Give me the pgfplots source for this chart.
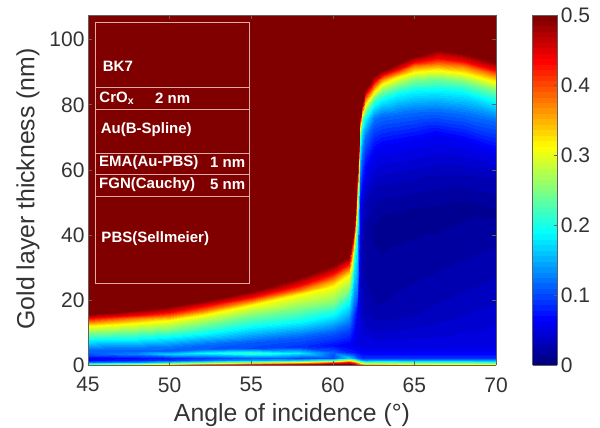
\documentclass[border=0pt]{standalone}
\usepackage{fontspec}
\setmainfont{Liberation Sans}
\usepackage{pgfplots}
\pgfplotsset{compat=1.18}
\pgfplotsset{colormap={mjetbase}{rgb255(0)=(0,0,128) rgb255(1)=(0,0,255) rgb255(3)=(0,255,255) rgb255(5)=(255,255,0) rgb255(7)=(255,0,0) rgb255(8)=(128,0,0)}}
\pgfplotsset{colormap={mjet}{samples of colormap=(64 of mjetbase)}}
\definecolor{axc}{gray}{0.38}
\definecolor{txc}{gray}{0.2}
\definecolor{boxc}{RGB}{222,170,170}
\newcommand{\bigf}{\fontsize{21}{25}\selectfont}
\newcommand{\labf}{\fontsize{24.8}{29}\selectfont}
\newcommand{\lab}[3]{\node[anchor=west,inner sep=0pt,text=white,font=\fontsize{15}{17}\selectfont\bfseries] at (#1pt-88pt,365pt-#2pt) {#3};}
\begin{document}
\begin{tikzpicture}
\useasboundingbox (-88pt,-63pt) rectangle (512pt,365pt);
\begin{axis}[
  at={(0pt,0pt)},anchor=south west,
  scale only axis,width=408pt,height=350pt,
  xmin=45,xmax=70,ymin=0,ymax=107.6,
  view={0}{90},
  xtick={45,50,...,70},ytick={0,20,...,100},
  tick align=inside,major tick length=4pt,
  tick style={color=axc,line width=0.6pt},
  axis line style={color=axc,line width=0.9pt},
  /pgf/number format/assume math mode=true,
  tick label style={font=\bigf,text=txc},
  xticklabel style={yshift=-9pt},
  xlabel={Angle of incidence (°)},
  ylabel={Gold layer thickness (nm)},
  label style={font=\labf,text=txc},
  xlabel style={at={(axis description cs:0.5,-0.162)},anchor=base},
  ylabel style={at={(axis description cs:-0.1316,0.503)},anchor=base},
  point meta min=0,point meta max=0.5,
  colormap name=mjet,
  colormap access=piecewise constant,
  colorbar,
  colorbar style={
    at={(1.09,1)},anchor=north west,
    width=24.6pt,
    ytick={0,0.1,0.2,0.3,0.4,0.5},
    yticklabels={0,0.1,0.2,0.3,0.4,0.5},
    ytick pos=right,
    yticklabel pos=right,
    tick align=inside,major tick length=3pt,
    tick style={color=axc,line width=0.6pt},
    axis line style={color=axc,line width=0.9pt},
    tick label style={font=\bigf,text=txc},
    /pgf/number format/assume math mode=true,
  },
]
\addplot3[surf,shader=interp,mesh/cols=21,mesh/rows=21] table[row sep=\\] {
x y z\\
45 0 .3\\ 45 .45 .22\\ 45 .9 .12\\ 45 1.5 .065\\ 45 2.2 .06\\ 45 3.2 .1\\ 45 4 .11\\ 45 4.1 .11\\ 45 4.2 .11\\ 45 4.3 .11\\ 45 4.4 .112\\ 45 4.5 .114\\ 45 4.6 .116\\ 45 4.8 .12\\ 45 7.7 .1875\\ 45 9.8 .25\\ 45 12 .3125\\ 45 13.2 .375\\ 45 14.3 .4375\\ 45 15.8 .5\\ 45 107.6 .5\\
48 0 .42\\ 48 .45 .27\\ 48 .9 .13\\ 48 1.5 .08\\ 48 2.2 .07\\ 48 3.4 .13\\ 48 4.3 .115\\ 48 4.4 .115\\ 48 4.5 .115\\ 48 4.6 .115\\ 48 4.7 .116\\ 48 4.8 .117\\ 48 4.9 .118\\ 48 5.1 .12\\ 48 8.1 .1875\\ 48 10.5 .25\\ 48 13 .3125\\ 48 14.3 .375\\ 48 15.4 .4375\\ 48 16.9 .5\\ 48 107.6 .5\\
50 0 .47\\ 50 .45 .32\\ 50 .9 .17\\ 50 1.5 .09\\ 50 2.2 .08\\ 50 3.5 .17\\ 50 4.4 .115\\ 50 4.6 .115\\ 50 4.7 .115\\ 50 4.8 .115\\ 50 4.9 .116\\ 50 5 .117\\ 50 5.2 .118\\ 50 5.4 .12\\ 50 8.5 .1875\\ 50 11.2 .25\\ 50 13.8 .3125\\ 50 15.1 .375\\ 50 16.3 .4375\\ 50 18 .5\\ 50 107.6 .5\\
52 0 .5\\ 52 .45 .38\\ 52 .9 .2\\ 52 1.5 .11\\ 52 2.2 .09\\ 52 3.6 .19\\ 52 4.8 .11\\ 52 5 .11\\ 52 5.2 .111\\ 52 5.5 .112\\ 52 5.8 .113\\ 52 6.1 .115\\ 52 6.3 .118\\ 52 6.5 .12\\ 52 9.6 .1875\\ 52 12.6 .25\\ 52 15.3 .3125\\ 52 16.7 .375\\ 52 18 .4375\\ 52 19.6 .5\\ 52 107.6 .5\\
55 0 .5\\ 55 .45 .42\\ 55 .9 .25\\ 55 1.5 .14\\ 55 2.2 .11\\ 55 3.7 .22\\ 55 5.2 .1\\ 55 5.6 .102\\ 55 6 .104\\ 55 6.4 .106\\ 55 6.8 .108\\ 55 7.2 .11\\ 55 7.5 .115\\ 55 7.8 .12\\ 55 11.7 .1875\\ 55 15.4 .25\\ 55 18.3 .3125\\ 55 19.7 .375\\ 55 21 .4375\\ 55 22.8 .5\\ 55 107.6 .5\\
58 0 .5\\ 58 .45 .46\\ 58 .9 .3\\ 58 1.5 .16\\ 58 2.2 .1\\ 58 3.8 .18\\ 58 5.5 .09\\ 58 6 .092\\ 58 6.5 .095\\ 58 7 .098\\ 58 7.5 .102\\ 58 8 .106\\ 58 8.6 .112\\ 58 9.2 .12\\ 58 13.2 .1875\\ 58 17.5 .25\\ 58 21.7 .3125\\ 58 23.1 .375\\ 58 24.5 .4375\\ 58 27 .5\\ 58 107.6 .5\\
60 0 .5\\ 60 .45 .5\\ 60 .9 .38\\ 60 1.5 .2\\ 60 2.2 .1\\ 60 4 .11\\ 60 6 .07\\ 60 6.7 .077\\ 60 7.4 .084\\ 60 8.1 .091\\ 60 8.8 .098\\ 60 9.5 .105\\ 60 10.2 .112\\ 60 10.8 .12\\ 60 15.4 .1875\\ 60 19 .25\\ 60 24.3 .3125\\ 60 26.3 .375\\ 60 28.3 .4375\\ 60 30.8 .5\\ 60 107.6 .5\\
61 0 .5\\ 61 .45 .5\\ 61 .9 .43\\ 61 1.5 .3\\ 61 2.2 .17\\ 61 4 .08\\ 61 6 .06\\ 61 7 .068\\ 61 8 .077\\ 61 9 .085\\ 61 10 .094\\ 61 11 .103\\ 61 12 .112\\ 61 13 .12\\ 61 19 .1875\\ 61 23 .25\\ 61 27.7 .3125\\ 61 29.5 .375\\ 61 31.3 .4375\\ 61 33.5 .5\\ 61 107.6 .5\\
61.15 0 .5\\ 61.15 .45 .48\\ 61.15 .9 .4\\ 61.15 1.5 .27\\ 61.15 2.2 .15\\ 61.15 4 .078\\ 61.15 6 .058\\ 61.15 7.5 .062\\ 61.15 9 .07\\ 61.15 10.5 .08\\ 61.15 12 .09\\ 61.15 13.5 .1\\ 61.15 15 .11\\ 61.15 16.3 .12\\ 61.15 24 .1875\\ 61.15 28 .25\\ 61.15 32 .3125\\ 61.15 34.5 .375\\ 61.15 36.5 .4375\\ 61.15 38.5 .5\\ 61.15 107.6 .5\\
61.3 0 .5\\ 61.3 .45 .47\\ 61.3 .9 .38\\ 61.3 1.5 .25\\ 61.3 2.2 .14\\ 61.3 4 .075\\ 61.3 6 .055\\ 61.3 8 .06\\ 61.3 10 .066\\ 61.3 12 .075\\ 61.3 14 .085\\ 61.3 16 .095\\ 61.3 17.5 .11\\ 61.3 19 .12\\ 61.3 30 .1875\\ 61.3 34 .25\\ 61.3 37 .3125\\ 61.3 39 .375\\ 61.3 40.5 .4375\\ 61.3 42 .5\\ 61.3 107.6 .5\\
61.5 0 .5\\ 61.5 .45 .42\\ 61.5 .9 .33\\ 61.5 1.5 .2\\ 61.5 2.2 .11\\ 61.5 4 .07\\ 61.5 6 .05\\ 61.5 9 .05\\ 61.5 13 .055\\ 61.5 16 .065\\ 61.5 18 .08\\ 61.5 20 .095\\ 61.5 21 .11\\ 61.5 22 .12\\ 61.5 38 .1875\\ 61.5 44 .25\\ 61.5 50 .3125\\ 61.5 53 .375\\ 61.5 56 .4375\\ 61.5 59 .5\\ 61.5 107.6 .5\\
61.65 0 .48\\ 61.65 .45 .38\\ 61.65 .9 .27\\ 61.65 1.5 .16\\ 61.65 2.2 .1\\ 61.65 4 .065\\ 61.65 6 .055\\ 61.65 11 .05\\ 61.65 18 .045\\ 61.65 26 .042\\ 61.65 36 .05\\ 61.65 44 .058\\ 61.65 50 .07\\ 61.65 58 .12\\ 61.65 66 .1875\\ 61.65 71 .25\\ 61.65 73 .3125\\ 61.65 74.2 .375\\ 61.65 75.2 .4375\\ 61.65 76.3 .5\\ 61.65 107.6 .5\\
61.8 0 .47\\ 61.8 .45 .36\\ 61.8 .9 .25\\ 61.8 1.5 .14\\ 61.8 2.2 .09\\ 61.8 3.6 .065\\ 61.8 5.3 .055\\ 61.8 11.7 .042\\ 61.8 18 .035\\ 61.8 26 .03\\ 61.8 36 .028\\ 61.8 45 .04\\ 61.8 54 .0625\\ 61.8 65 .12\\ 61.8 72.5 .1875\\ 61.8 75.5 .25\\ 61.8 77 .3125\\ 61.8 78 .375\\ 61.8 79 .4375\\ 61.8 80.3 .5\\ 61.8 107.6 .5\\
62 0 .45\\ 62 .45 .33\\ 62 .9 .22\\ 62 1.5 .13\\ 62 2.2 .09\\ 62 3.6 .065\\ 62 5.3 .055\\ 62 11.7 .04\\ 62 17 .03\\ 62 27 .023\\ 62 40 .02\\ 62 50 .032\\ 62 60 .0625\\ 62 70 .12\\ 62 75.5 .1875\\ 62 78 .25\\ 62 80 .3125\\ 62 81.5 .375\\ 62 83 .4375\\ 62 84.5 .5\\ 62 107.6 .5\\
62.5 0 .45\\ 62.5 .45 .33\\ 62.5 .9 .22\\ 62.5 1.5 .14\\ 62.5 2.2 .09\\ 62.5 3.6 .065\\ 62.5 5.3 .055\\ 62.5 9.5 .04\\ 62.5 14 .03\\ 62.5 20 .02\\ 62.5 42 .014\\ 62.5 54 .03\\ 62.5 66 .0625\\ 62.5 75.5 .12\\ 62.5 80 .1875\\ 62.5 82.5 .25\\ 62.5 84 .3125\\ 62.5 85.5 .375\\ 62.5 87 .4375\\ 62.5 88.7 .5\\ 62.5 107.6 .5\\
63 0 .45\\ 63 .45 .33\\ 63 .9 .22\\ 63 1.5 .14\\ 63 2.2 .09\\ 63 3.6 .065\\ 63 5.3 .055\\ 63 9.5 .04\\ 63 14.3 .03\\ 63 22 .02\\ 63 44 .012\\ 63 55 .03\\ 63 67.5 .0625\\ 63 76.8 .12\\ 63 81.5 .1875\\ 63 84.3 .25\\ 63 86.4 .3125\\ 63 87.8 .375\\ 63 89 .4375\\ 63 90.3 .5\\ 63 107.6 .5\\
64 0 .44\\ 64 .45 .32\\ 64 .9 .22\\ 64 1.5 .14\\ 64 2.2 .09\\ 64 3.6 .065\\ 64 5.3 .055\\ 64 10 .04\\ 64 15 .03\\ 64 27 .02\\ 64 45 .012\\ 64 56 .03\\ 64 68.5 .0625\\ 64 77.6 .12\\ 64 83.2 .1875\\ 64 86.2 .25\\ 64 88.5 .3125\\ 64 89.8 .375\\ 64 91 .4375\\ 64 92.7 .5\\ 64 107.6 .5\\
65 0 .43\\ 65 .45 .32\\ 65 .9 .21\\ 65 1.5 .14\\ 65 2.2 .09\\ 65 3.6 .065\\ 65 5.3 .055\\ 65 11 .04\\ 65 16 .03\\ 65 30 .02\\ 65 46 .012\\ 65 57 .03\\ 65 69.5 .0625\\ 65 78 .12\\ 65 84.2 .1875\\ 65 87.6 .25\\ 65 90 .3125\\ 65 91.8 .375\\ 65 93.3 .4375\\ 65 95 .5\\ 65 107.6 .5\\
66.4 0 .42\\ 66.4 .45 .31\\ 66.4 .9 .21\\ 66.4 1.5 .14\\ 66.4 2.2 .09\\ 66.4 3.6 .065\\ 66.4 5.3 .055\\ 66.4 12 .04\\ 66.4 20 .03\\ 66.4 33 .02\\ 66.4 47 .012\\ 66.4 58 .03\\ 66.4 71 .0625\\ 66.4 78.5 .12\\ 66.4 84.6 .1875\\ 66.4 88.3 .25\\ 66.4 90.8 .3125\\ 66.4 92.6 .375\\ 66.4 94.4 .4375\\ 66.4 97 .5\\ 66.4 107.6 .5\\
68 0 .41\\ 68 .45 .31\\ 68 .9 .21\\ 68 1.5 .14\\ 68 2.2 .09\\ 68 3.6 .065\\ 68 5.3 .055\\ 68 14 .04\\ 68 24 .03\\ 68 37 .02\\ 68 49 .013\\ 68 58 .03\\ 68 69.5 .0625\\ 68 77.5 .12\\ 68 83.8 .1875\\ 68 87.3 .25\\ 68 89.8 .3125\\ 68 91.8 .375\\ 68 93.6 .4375\\ 68 96 .5\\ 68 107.6 .5\\
70 0 .4\\ 70 .45 .3\\ 70 .9 .2\\ 70 1.5 .14\\ 70 2.2 .09\\ 70 3.6 .065\\ 70 5.3 .055\\ 70 18 .04\\ 70 28 .03\\ 70 41 .02\\ 70 47 .014\\ 70 57 .03\\ 70 66 .0625\\ 70 75.4 .12\\ 70 81 .1875\\ 70 84.6 .25\\ 70 87.1 .3125\\ 70 89 .375\\ 70 90.8 .4375\\ 70 93 .5\\ 70 107.6 .5\\
};
\end{axis}
\draw[boxc,line width=0.5pt] (7.3pt,81.7pt) rectangle (161.7pt,342.3pt);
\foreach \p in {87.7,109.3,153.3,174.3,196}{\draw[boxc,line width=0.5pt] (7.3pt,365pt-\p pt) -- (161.7pt,365pt-\p pt);}
\lab{102.7}{66}{BK7}
\lab{99.3}{98}{CrO\textsubscript{x}}
\lab{155}{98}{2 nm}
\lab{100.7}{130}{Au(B-Spline)}
\lab{99}{162.7}{EMA(Au-PBS)}
\lab{210}{162.7}{1 nm}
\lab{99}{184.3}{FGN(Cauchy)}
\lab{210}{184.3}{5 nm}
\lab{101.3}{239}{PBS(Sellmeier)}
\end{tikzpicture}
\end{document}
